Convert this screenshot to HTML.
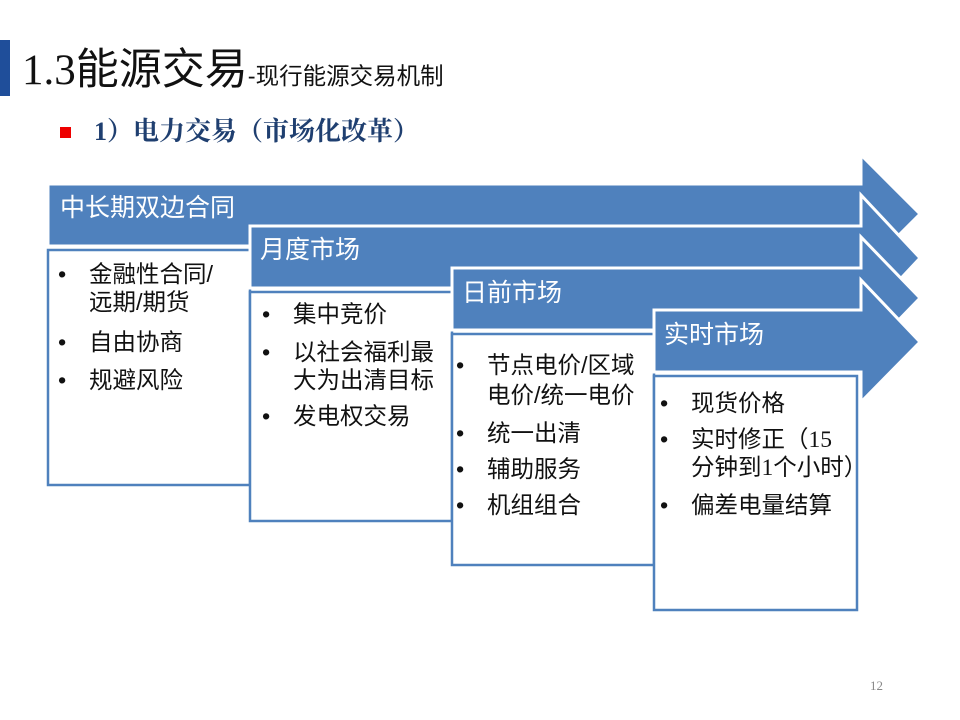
<!DOCTYPE html>
<html><head><meta charset="utf-8"><style>
body{margin:0;width:960px;height:720px;background:#fff;position:relative;overflow:hidden;font-family:"Liberation Sans","Noto Sans CJK SC",sans-serif}
.t{position:absolute;white-space:nowrap;line-height:1;font-size:23.5px;color:#111}
.w{color:#fff;font-size:25px}
</style></head><body>
<div style="position:absolute;left:0;top:40px;width:10px;height:56px;background:#1f4e9a"></div>
<div class="t" style="left:22px;top:49px;font-size:43px;font-family:'Liberation Serif','Noto Serif CJK SC',serif;color:#111">1.3<span style="font-family:'Liberation Sans','Noto Sans CJK SC',sans-serif">能源交易</span><span style="font-size:23.5px;font-family:'Liberation Sans','Noto Sans CJK SC',sans-serif">-现行能源交易机制</span></div>
<div style="position:absolute;left:60px;top:127px;width:11px;height:11px;background:#e00"></div>
<div class="t" style="left:94px;top:119px;font-size:26px;font-weight:bold;color:#1f3f70;font-family:'Liberation Serif','Noto Serif CJK SC',serif">1）电力交易（市场化改革）</div>
<svg width="960" height="720" style="position:absolute;left:0;top:0">
<g fill="#4f81bd" stroke="#fff" stroke-width="3">
<polygon points="48,184 861,184 861,155 920,214 861,273 861,246 48,246"/>
<rect x="48" y="250" width="202" height="235" fill="#fff" stroke="#4f81bd" stroke-width="2.5"/>
<polygon points="250,226 861,226 861,195 920,258 861,321 861,288 250,288"/>
<rect x="250" y="292" width="202" height="229" fill="#fff" stroke="#4f81bd" stroke-width="2.5"/>
<polygon points="452,268 861,268 861,237 920,298 861,359 861,330 452,330"/>
<rect x="452" y="334" width="202" height="231" fill="#fff" stroke="#4f81bd" stroke-width="2.5"/>
<polygon points="654,310 861,310 861,280 920,342 861,402 861,372 654,372"/>
<rect x="654" y="376" width="203" height="234" fill="#fff" stroke="#4f81bd" stroke-width="2.5"/>
</g>
</svg>
<div class="t w" style="left:60px;top:196px">中长期双边合同</div>
<div class="t w" style="left:260px;top:238px">月度市场</div>
<div class="t w" style="left:462px;top:281px">日前市场</div>
<div class="t w" style="left:664px;top:323px">实时市场</div>

<div class="t" style="left:58px;top:263px">•</div><div class="t" style="left:89px;top:263px">金融性合同/</div>
<div class="t" style="left:89px;top:291px">远期/期货</div>
<div class="t" style="left:58px;top:331px">•</div><div class="t" style="left:89px;top:331px">自由协商</div>
<div class="t" style="left:58px;top:369px">•</div><div class="t" style="left:89px;top:369px">规避风险</div>

<div class="t" style="left:262px;top:303px">•</div><div class="t" style="left:293px;top:303px">集中竞价</div>
<div class="t" style="left:262px;top:341px">•</div><div class="t" style="left:293px;top:341px">以社会福利最</div>
<div class="t" style="left:293px;top:369px">大为出清目标</div>
<div class="t" style="left:262px;top:405px">•</div><div class="t" style="left:293px;top:405px">发电权交易</div>

<div class="t" style="left:456px;top:354px">•</div><div class="t" style="left:487px;top:354px">节点电价/区域</div>
<div class="t" style="left:487px;top:384px">电价/统一电价</div>
<div class="t" style="left:456px;top:422px">•</div><div class="t" style="left:487px;top:422px">统一出清</div>
<div class="t" style="left:456px;top:458px">•</div><div class="t" style="left:487px;top:458px">辅助服务</div>
<div class="t" style="left:456px;top:494px">•</div><div class="t" style="left:487px;top:494px">机组组合</div>

<div class="t" style="left:660px;top:392px">•</div><div class="t" style="left:691px;top:392px">现货价格</div>
<div class="t" style="left:660px;top:428px">•</div><div class="t" style="left:691px;top:428px">实时修正（<span style="font-family:'Liberation Serif',serif">15</span></div>
<div class="t" style="left:691px;top:456px">分钟到<span style="font-family:'Liberation Serif',serif">1</span>个小时）</div>
<div class="t" style="left:660px;top:494px">•</div><div class="t" style="left:691px;top:494px">偏差电量结算</div>

<div class="t" style="left:870px;top:679px;font-size:13px;color:#888;font-family:'Liberation Serif',serif">12</div>
</body></html>
